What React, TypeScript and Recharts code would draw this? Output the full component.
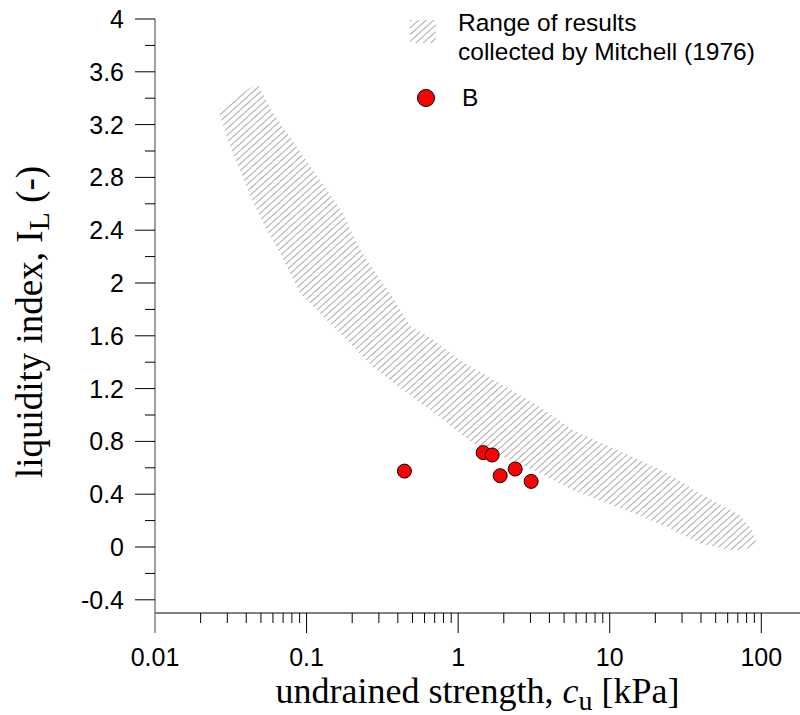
import React from 'react';
import { ScatterChart, Scatter, XAxis, YAxis, Legend } from 'recharts';

document.body.style.margin = '0';

// Mitchell (1976) range: upper edge left to right, then lower edge right to left
const bandUpperX = [0.0261, 0.0471, 0.0601, 0.0865, 0.1227, 0.174, 0.215, 0.25, 0.372, 0.48, 0.684, 1.03, 2.1, 3.48, 5.74, 15.9, 24, 39.6, 72.6, 84.6, 94.1];
const bandUpperY = [3.31, 3.515, 3.287, 3.03, 2.78, 2.53, 2.3, 2.17, 1.89, 1.68, 1.57, 1.415, 1.21, 1.06, 0.884, 0.657, 0.558, 0.406, 0.24, 0.149, 0.035];
const bandLowerX = [88.5, 65.3, 39.6, 24, 14.3, 8.65, 5.74, 3.48, 1.256, 0.76, 0.46, 0.275, 0.185, 0.1227, 0.0906, 0.0668, 0.0548, 0.0444, 0.0364, 0.0298];
const bandLowerY = [-0.003, -0.026, 0.027, 0.149, 0.255, 0.353, 0.429, 0.558, 0.785, 0.983, 1.165, 1.362, 1.566, 1.771, 1.923, 2.226, 2.4, 2.605, 2.855, 3.105];

// series B
const bX = [0.442, 1.462, 1.676, 1.893, 2.378, 3.03];
const bY = [0.575, 0.715, 0.697, 0.54, 0.591, 0.497];

// axis ticks
const xTicks = [
  0.01, 0.02, 0.03, 0.04, 0.05, 0.06, 0.07, 0.08, 0.09,
  0.1, 0.2, 0.3, 0.4, 0.5, 0.6, 0.7, 0.8, 0.9,
  1, 2, 3, 4, 5, 6, 7, 8, 9,
  10, 20, 30, 40, 50, 60, 70, 80, 90,
  100,
];
const xMajor = [0.01, 0.1, 1, 10, 100];
const yTicks = [-0.4, -0.2, 0, 0.2, 0.4, 0.6, 0.8, 1, 1.2, 1.4, 1.6, 1.8, 2, 2.2, 2.4, 2.6, 2.8, 3, 3.2, 3.4, 3.6, 3.8, 4];
const yMajor = [-0.4, 0, 0.4, 0.8, 1.2, 1.6, 2, 2.4, 2.8, 3.2, 3.6, 4];

const bandData = [
  ...bandUpperX.map((x, i) => ({ x, y: bandUpperY[i] })),
  ...bandLowerX.map((x, i) => ({ x, y: bandLowerY[i] })),
];
const bData = bX.map((x, i) => ({ x, y: bY[i] }));

const SANS = '"Liberation Sans", Arial, sans-serif';
const SERIF = '"Liberation Serif", "Times New Roman", serif';

const XTick = (props: any) => {
  const { x, y, payload } = props;
  const v = payload.value;
  const major = xMajor.includes(v);
  return (
    <g>
      <line x1={x} x2={x} y1={y} y2={y + (major ? 20 : 10)} stroke={v === 0.01 ? '#808080' : '#000'} strokeWidth={v === 0.01 ? 1.5 : 1} />
      {major && (
        <text x={x} y={y + 53} textAnchor="middle" fontFamily={SANS} fontSize={25} fill="#000">
          {String(v)}
        </text>
      )}
    </g>
  );
};

const YTick = (props: any) => {
  const { x, y, payload } = props;
  const v = payload.value;
  const major = yMajor.includes(v);
  return (
    <g>
      <line x1={x - (major ? 20 : 10)} x2={x} y1={y} y2={y} stroke="#000" />
      {major && (
        <text x={x - 31} y={y + 9} textAnchor="end" fontFamily={SANS} fontSize={25} fill="#000">
          {String(v)}
        </text>
      )}
    </g>
  );
};

const XTitle = (props: any) => {
  const vb = props.viewBox || { x: 155, y: 613, width: 645, height: 102 };
  return (
    <text x={vb.x + vb.width / 2} y={vb.y + 90} textAnchor="middle" fontFamily={SERIF} fontSize={36} fill="#000">
      undrained strength, <tspan fontStyle="italic">c</tspan>
      <tspan dy={7} fontSize={28}>u</tspan>
      <tspan dy={-7}> [kPa]</tspan>
    </text>
  );
};

const YTitle = (props: any) => {
  const vb = props.viewBox || { x: 0, y: 19, width: 155, height: 594 };
  const cx = 42;
  const cy = vb.y + vb.height / 2 + 6;
  return (
    <text x={cx} y={cy} transform={`rotate(-90, ${cx}, ${cy})`} textAnchor="middle" fontFamily={SERIF} fontSize={37} fill="#000">
      liquidity index, I<tspan dy={7} fontSize={30}>L</tspan>
      <tspan dy={-7}> (-)</tspan>
    </text>
  );
};

const renderLegend = () => (
  <svg width={400} height={120} style={{ display: 'block' }}>
    <defs>
      <pattern id="hatchLegend" patternUnits="userSpaceOnUse" width={10} height={5} patternTransform="rotate(-42)">
        <line x1={0} x2={10} y1={2.5} y2={2.5} stroke="#a0a0a0" strokeWidth={0.9} />
      </pattern>
    </defs>
    <rect x={10} y={20} width={26} height={23} fill="url(#hatchLegend)" />
    <text x={58} y={31} fontFamily={SANS} fontSize={24.5} fill="#000">Range of results</text>
    <text x={58} y={60} fontFamily={SANS} fontSize={24.5} fill="#000">collected by Mitchell (1976)</text>
    <circle cx={26} cy={98} r={8.5} fill="#ff0000" stroke="#000" strokeWidth={1} />
    <text x={62} y={106} fontFamily={SANS} fontSize={24.5} fill="#000">B</text>
  </svg>
);

export default function App() {
  return (
    <ScatterChart width={800} height={715} margin={{ top: 19, right: 0, bottom: 0, left: 0 }}>
      <defs>
        <pattern id="hatch" patternUnits="userSpaceOnUse" width={10} height={5} patternTransform="rotate(-42)">
          <line x1={0} x2={10} y1={2.5} y2={2.5} stroke="#a0a0a0" strokeWidth={0.9} />
        </pattern>
      </defs>
      <XAxis
        dataKey="x"
        type="number"
        scale="log"
        domain={[0.01, 180]}
        allowDataOverflow
        ticks={xTicks}
        interval={0}
        height={102}
        tickSize={0}
        tickMargin={0}
        tickLine={false}
        tick={<XTick />}
        axisLine={{ stroke: '#000', strokeWidth: 1 }}
        label={(p: any) => <XTitle {...p} />}
      />
      <YAxis
        dataKey="y"
        type="number"
        domain={[-0.5, 4]}
        allowDataOverflow
        ticks={yTicks}
        interval={0}
        width={155}
        tickSize={0}
        tickMargin={0}
        tickLine={false}
        tick={<YTick />}
        axisLine={{ stroke: '#808080', strokeWidth: 1.5 }}
        label={(p: any) => <YTitle {...p} />}
      />
      <Legend
        layout="horizontal"
        verticalAlign="middle"
        align="center"
        content={renderLegend}
        wrapperStyle={{ left: 400, top: 0, width: 400, height: 120 }}
      />
      <Scatter
        name="Range of results collected by Mitchell (1976)"
        data={bandData}
        line={{ fill: 'url(#hatch)', stroke: 'none' }}
        lineType="joint"
        shape={() => <g />}
        isAnimationActive={false}
      />
      <Scatter
        name="B"
        data={bData}
        shape={(p: any) => <circle cx={p.cx} cy={p.cy} r={7} fill="#ff0000" stroke="#000" strokeWidth={1} />}
        isAnimationActive={false}
      />
    </ScatterChart>
  );
}
